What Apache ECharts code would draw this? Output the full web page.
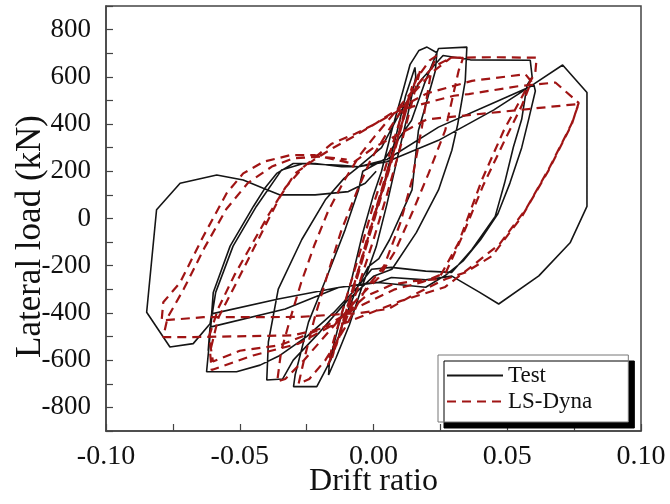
<!DOCTYPE html>
<html>
<head>
<meta charset="utf-8">
<script src="https://cdn.jsdelivr.net/npm/echarts@6/dist/echarts.min.js"></script>
<style>
  html, body { margin: 0; padding: 0; background: #fff; }
  #main { width: 670px; height: 504px; }
</style>
</head>
<body>
<div id="main"></div>
<script>
// tick label values
var yLabelValues = [-800, -600, -400, -200, 0, 200, 400, 600, 800];

// Test (black) - one array per cycle, [drift ratio, load kN]
var testCycle1 = [[0,0],[0.004,150],[0.008,330],[0.012,520],[0.0155,640],[0.0158,600],[0.013,450],[0.009,260],[0.005,60],[0.001,-120],[-0.004,-280],[-0.009,-450],[-0.014,-590],[-0.0168,-663],[-0.0165,-610],[-0.013,-450],[-0.008,-250],[-0.004,-60],[0,100],[0.003,200]];
var testCycle2 = [[0.007,380],[0.011,540],[0.0137,653],[0.017,712],[0.020,726],[0.0237,702],[0.0231,625],[0.0195,480],[0.0168,373],[0.0155,240],[0.0144,121],[0.010,10],[0.006,-90],[0.002,-170],[-0.002,-205],[-0.006,-290],[-0.011,-430],[-0.016,-600],[-0.0212,-712],[-0.0299,-712],[-0.0293,-663],[-0.0243,-439],[-0.0168,-229],[-0.0106,-47],[-0.0056,121],[-0.004,200]];
var testCycle3 = [[0.004,250],[0.0142,415],[0.019,570],[0.0243,720],[0.0349,726],[0.0343,583],[0.0315,400],[0.0293,289],[0.0243,121],[0.016,-60],[0.0069,-215],[0.000,-245],[-0.010,-350],[-0.020,-480],[-0.030,-600],[-0.034,-680],[-0.0399,-684],[-0.0393,-523],[-0.0356,-299],[-0.0268,-89],[-0.018,79],[-0.011,170],[-0.0056,219]];
var testCycle4 = [[0.003,300],[0.010,450],[0.018,590],[0.026,690],[0.0362,672],[0.0586,670],[0.0593,600],[0.0574,565],[0.0554,420],[0.0523,303],[0.049,150],[0.0455,9],[0.0368,-131],[0.0293,-228],[0.0195,-223],[0.0067,-207],[-0.0007,-215],[-0.006,-290],[-0.015,-400],[-0.025,-500],[-0.035,-580],[-0.0424,-621],[-0.0512,-649],[-0.0624,-649],[-0.0611,-495],[-0.0599,-313],[-0.0536,-117],[-0.0449,51],[-0.0405,130],[-0.0362,191],[-0.030,233],[-0.0218,233],[-0.0119,219],[-0.0056,219]];
var testCycle5 = [[0.005,250],[0.0243,387],[0.045,490],[0.060,565],[0.0605,540],[0.058,420],[0.0554,300],[0.051,150],[0.0465,20],[0.040,-90],[0.0335,-180],[0.027,-240],[0.0195,-291],[0.0007,-270],[-0.0131,-292],[-0.033,-383],[-0.0611,-460],[-0.0618,-560],[-0.0605,-420],[-0.059,-313],[-0.0525,-117],[-0.0438,51],[-0.0344,205],[-0.0262,233],[-0.0119,225],[-0.0056,219]];
var testCycle6 = [[0.005,240],[0.0243,331],[0.045,460],[0.0599,569],[0.0707,650],[0.0798,534],[0.0798,51],[0.0735,-103],[0.0618,-243],[0.0468,-362],[0.0397,-313],[0.0293,-244],[0.0195,-260],[0.0067,-250],[0.0019,-271],[-0.0131,-292],[-0.0356,-341],[-0.0605,-404],[-0.0611,-446],[-0.0674,-530],[-0.0761,-544],[-0.0848,-397],[-0.0811,37],[-0.0723,149],[-0.0586,184],[-0.0487,163],[-0.0412,128],[-0.0349,100],[-0.0218,100],[-0.0094,114],[-0.0031,149],[0.001,200]];

// LS-Dyna (red dashed)
var dynaCycle0 = [[0,0],[0.004,160],[0.009,340],[0.013,500],[0.011,420],[0.006,220],[0.001,30],[-0.004,-170],[-0.009,-360],[-0.014,-540],[-0.011,-420],[-0.006,-230],[-0.001,-30],[0.003,120],[0.008,300],[0.012,470],[0.0145,560],[0.012,450],[0.007,250],[0.002,60],[-0.003,-130],[-0.008,-320],[-0.013,-500],[-0.0155,-590],[-0.012,-460],[-0.007,-270],[-0.002,-80],[0.002,80]];
var dynaCycle1 = [[0,0],[0.005,180],[0.010,380],[0.015,560],[0.0175,630],[0.015,520],[0.010,300],[0.005,100],[0,-90],[-0.006,-300],[-0.012,-480],[-0.017,-620],[-0.015,-520],[-0.010,-330],[-0.005,-140],[0,60],[0.004,200]];
var dynaCycle2 = [[0.010,420],[0.016,590],[0.021,670],[0.0237,690],[0.0218,639],[0.0181,387],[0.0144,163],[0.010,-20],[0.004,-200],[-0.003,-300],[-0.010,-450],[-0.018,-600],[-0.024,-680],[-0.028,-700],[-0.026,-600],[-0.022,-420],[-0.017,-230],[-0.012,-50],[-0.006,120],[-0.001,250]];
var dynaCycle3 = [[0.006,380],[0.014,520],[0.022,620],[0.029,681],[0.0335,680],[0.0318,625],[0.0268,373],[0.0206,191],[0.0144,23],[0.008,-140],[0.002,-250],[-0.006,-340],[-0.016,-470],[-0.026,-600],[-0.033,-680],[-0.036,-690],[-0.0345,-560],[-0.031,-420],[-0.027,-270],[-0.022,-110],[-0.017,30],[-0.011,160],[-0.005,270],[0.0006,350]];
var dynaCycle4 = [[0.008,450],[0.016,560],[0.022,640],[0.029,681],[0.045,683],[0.061,681],[0.0605,620],[0.0574,555],[0.0487,373],[0.0405,163],[0.0318,-103],[0.0243,-257],[0.015,-265],[0.007,-280],[-0.003,-330],[-0.015,-450],[-0.028,-530],[-0.045,-580],[-0.0605,-642],[-0.0611,-565],[-0.058,-420],[-0.0512,-271],[-0.0462,-159],[-0.0387,9],[-0.0349,93],[-0.0293,191],[-0.022,250],[-0.015,300],[-0.007,350],[0.0006,401]];
var dynaCycle5 = [[0.010,470],[0.020,530],[0.0368,583],[0.0568,611],[0.059,580],[0.0555,480],[0.049,330],[0.041,140],[0.033,-80],[0.027,-230],[0.018,-270],[0.008,-300],[-0.005,-370],[-0.020,-470],[-0.035,-537],[-0.050,-560],[-0.060,-606],[-0.0615,-500],[-0.058,-380],[-0.052,-240],[-0.045,-100],[-0.039,20],[-0.033,130],[-0.026,220],[-0.0156,317],[-0.0068,359],[0.0006,401]];
var dynaCycle6 = [[0.010,460],[0.030,520],[0.0356,527],[0.054,560],[0.068,576],[0.0767,490],[0.0742,401],[0.0655,205],[0.0555,9],[0.0443,-159],[0.0343,-229],[0.0268,-257],[0.0144,-327],[0.0056,-383],[-0.005,-400],[-0.028,-417],[-0.0636,-418],[-0.0792,-432],[-0.0786,-355],[-0.0723,-271],[-0.0636,-75],[-0.0549,107],[-0.0487,191],[-0.0412,240],[-0.0312,268],[-0.0218,268],[-0.008,233],[0,300]];
var dynaCycle7 = [[0.020,420],[0.0643,471],[0.0767,485],[0.074,400],[0.066,220],[0.057,40],[0.047,-110],[0.037,-200],[0.0268,-290],[0.010,-350],[-0.010,-440],[-0.030,-495],[-0.0674,-502],[-0.0786,-502],[-0.0770,-420],[-0.071,-300],[-0.063,-120],[-0.055,40],[-0.047,150],[-0.038,220],[-0.030,255],[-0.020,262],[-0.010,250]];

var testData = [].concat(testCycle1, testCycle2, testCycle3, testCycle4, testCycle5, testCycle6);
var dynaData = [].concat(dynaCycle0, dynaCycle1, dynaCycle2, dynaCycle3, dynaCycle4, dynaCycle5, dynaCycle6, dynaCycle7);

var serif = 'Liberation Serif';
var chart = echarts.init(document.getElementById('main'));

chart.setOption({
  animation: false,
  backgroundColor: '#fff',
  grid: {
    left: 106, right: 29, top: 6, bottom: 73,
    outerBoundsMode: 'none',
    show: true, borderColor: '#444', borderWidth: 1.5, backgroundColor: 'transparent'
  },
  legend: {
    data: ['Test', 'LS-Dyna'],
    orient: 'vertical',
    left: 438, top: 355,
    itemWidth: 56, itemHeight: 14, itemGap: 3,
    padding: [9, 36, 9, 8],
    backgroundColor: '#fff',
    borderColor: '#777', borderWidth: 1,
    shadowColor: '#000', shadowBlur: 0, shadowOffsetX: 6, shadowOffsetY: 6,
    itemStyle: { opacity: 0 },
    textStyle: { fontFamily: serif, fontSize: 23, color: '#111' }
  },
  xAxis: {
    type: 'value', min: -0.1, max: 0.1, interval: 0.05,
    name: 'Drift ratio', nameLocation: 'middle', nameGap: 35, nameMoveOverlap: false,
    nameTextStyle: { fontFamily: serif, fontSize: 32, color: '#111' },
    axisLine: { onZero: false, lineStyle: { color: '#444', width: 1.5 } },
    axisTick: { inside: true, length: 7, lineStyle: { color: '#444', width: 1.2 } },
    minorTick: { show: true, splitNumber: 2, length: 7, lineStyle: { color: '#444', width: 1.2 } },
    axisLabel: { margin: 12, fontFamily: serif, fontSize: 28, color: '#111',
      formatter: function (v) { return v.toFixed(2); } },
    splitLine: { show: false }
  },
  yAxis: {
    type: 'value', min: -900, max: 900, interval: 100,
    name: 'Lateral load (kN)', nameLocation: 'middle', nameGap: 58, nameMoveOverlap: false,
    nameTextStyle: { fontFamily: serif, fontSize: 35, color: '#111', padding: [0, 36, 0, 0] },
    axisLine: { onZero: false, lineStyle: { color: '#444', width: 1.5 } },
    axisTick: { inside: true, length: 7, lineStyle: { color: '#444', width: 1.2 } },
    axisLabel: { margin: 15, fontFamily: serif, fontSize: 27, color: '#111',
      formatter: function (v) { return yLabelValues.indexOf(v) >= 0 ? String(v) : ''; } },
    splitLine: { show: false }
  },
  series: [
    {
      name: 'Test', type: 'line', data: testData, symbol: 'none',
      lineStyle: { color: '#151515', width: 1.6 },
      itemStyle: { color: '#151515' }
    },
    {
      name: 'LS-Dyna', type: 'line', data: dynaData, symbol: 'none',
      lineStyle: { color: '#a01414', width: 2.2, type: [9, 6] },
      itemStyle: { color: '#a01414' }
    }
  ]
});
</script>
</body>
</html>
